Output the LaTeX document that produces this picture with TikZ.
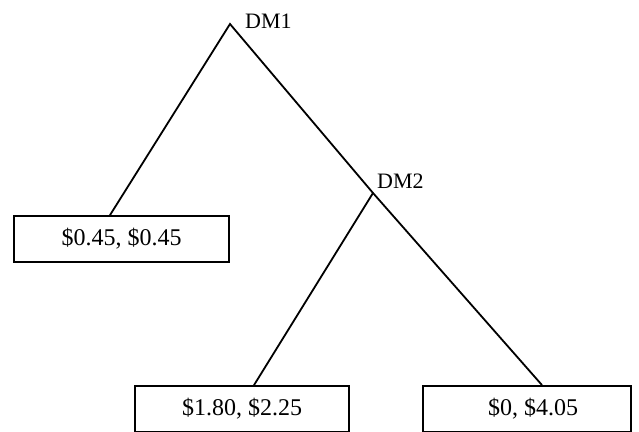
\documentclass[tikz,border=0pt]{standalone}
\usepackage{fontspec}
\setmainfont{Liberation Serif}
\begin{document}
\begin{tikzpicture}[x=1pt,y=-1pt,
  payoff/.style={draw,line width=1.8pt,minimum width=#1,minimum height=46pt,inner sep=0pt,font=\fontsize{24}{28}\selectfont},
  lbl/.style={inner sep=0pt,anchor=base west,font=\fontsize{22}{26}\selectfont},
  edge/.style={line width=1.8pt}]
\useasboundingbox (0,0) rectangle (639,431);
\coordinate (dm1) at (230,24);
\coordinate (dm2) at (373,193);
\node[lbl] (l1) at (245,28) {DM1};
\node[lbl] (l2) at (377,188) {DM2};
\node[payoff=215pt] (lbox) at (121.5,239) {\$0.45, \$0.45};
\node[payoff=214pt] (bl) at (242,409) {\$1.80, \$2.25};
\node[payoff=208pt] (br) at (527,409) {\hspace*{12pt}\$0, \$4.05};
\draw[edge] ([xshift=-11.5pt]lbox.north) -- (dm1) -- (dm2) -- ([xshift=15pt]br.north);
\draw[edge] (dm2) -- ([xshift=12pt]bl.north);
\end{tikzpicture}
\end{document}
